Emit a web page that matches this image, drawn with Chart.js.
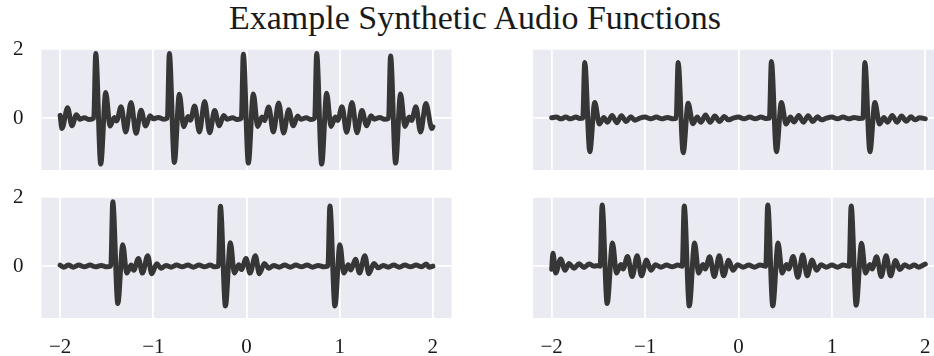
<!DOCTYPE html>
<html><head><meta charset="utf-8">
<script src="https://cdn.jsdelivr.net/npm/chart.js@4.4.0/dist/chart.umd.min.js"></script>
<style>
html,body{margin:0;padding:0;width:934px;height:356px;overflow:hidden;background:#fff;}
#wrap{position:relative;width:934px;height:356px;overflow:hidden;}
canvas{position:absolute;}
#title{position:absolute;left:0;top:1px;width:950px;text-align:center;font-family:"Liberation Serif",serif;font-size:34px;line-height:34px;color:#1a1a1a;white-space:nowrap;}
</style></head><body>
<div id="wrap">
<div id="title"></div>
<canvas id="c0" width="470" height="141" style="left:0;top:34px"></canvas>
<canvas id="c1" width="421" height="141" style="left:528px;top:34px"></canvas>
<canvas id="c2" width="470" height="174" style="left:0;top:182px"></canvas>
<canvas id="c3" width="421" height="174" style="left:528px;top:182px"></canvas>
</div>
<script>
const titleText = 'Example Synthetic Audio Functions';
const xTicks = [-2, -1, 0, 1, 2];
const yTicks = [0, 2];
const xRange = [-2.2, 2.2];
const yRange = [-1.5, 2.0];

// [x, y] samples, one array per panel
const topLeft = [
 [-2.000,0.08],[-1.980,-0.30],[-1.920,0.30],[-1.873,-0.22],[-1.825,0.10],[-1.790,-0.03],[-1.740,0.01],[-1.690,-0.04],[-1.639,0.00],
 [-1.618,1.87],[-1.564,-1.33],[-1.511,0.74],[-1.464,-0.23],[-1.418,0.02],[-1.393,-0.08],[-1.346,0.33],[-1.296,-0.40],[-1.239,0.45],[-1.185,-0.44],[-1.132,0.23],[-1.082,-0.23],[-1.035,0.07],[-1.000,-0.02],[-0.946,0.02],[-0.892,-0.03],[-0.849,0.00],
 [-0.828,1.87],[-0.774,-1.28],[-0.721,0.69],[-0.674,-0.25],[-0.628,0.05],[-0.603,-0.06],[-0.556,0.35],[-0.506,-0.40],[-0.449,0.48],[-0.395,-0.42],[-0.342,0.22],[-0.292,-0.22],[-0.245,0.08],[-0.210,-0.03],[-0.150,0.01],[-0.100,-0.04],[-0.055,0.00],
 [-0.034,1.85],[0.020,-1.30],[0.073,0.70],[0.120,-0.24],[0.166,0.03],[0.191,-0.07],[0.238,0.32],[0.288,-0.40],[0.345,0.44],[0.399,-0.43],[0.452,0.24],[0.502,-0.22],[0.549,0.06],[0.584,-0.03],[0.640,0.01],[0.690,-0.04],[0.732,0.00],
 [0.753,1.87],[0.807,-1.33],[0.860,0.72],[0.907,-0.24],[0.953,0.03],[0.978,-0.07],[1.025,0.33],[1.075,-0.41],[1.132,0.45],[1.186,-0.42],[1.239,0.22],[1.289,-0.22],[1.336,0.07],[1.371,-0.03],[1.430,0.02],[1.480,-0.03],[1.525,0.00],
 [1.546,1.80],[1.600,-1.30],[1.653,0.70],[1.700,-0.24],[1.746,0.03],[1.771,-0.07],[1.818,0.33],[1.868,-0.40],[1.925,0.42],[1.990,-0.30],[2.000,-0.25]
];
const topRight = [
 [-2.000,0.01],[-1.950,0.03],[-1.900,-0.02],[-1.850,0.03],[-1.800,-0.02],[-1.740,0.03],[-1.700,-0.01],[-1.667,0.00],
 [-1.646,1.61],[-1.592,-0.97],[-1.539,0.45],[-1.489,-0.17],[-1.442,0.02],[-1.403,-0.12],[-1.353,0.08],[-1.303,-0.13],[-1.253,0.07],[-1.203,-0.10],[-1.153,0.04],[-1.110,-0.06],[-1.056,0.00],[-1.000,0.03],[-0.940,-0.02],[-0.880,0.03],[-0.820,-0.02],[-0.760,0.02],[-0.700,-0.02],[-0.667,0.00],
 [-0.646,1.61],[-0.592,-1.00],[-0.539,0.43],[-0.489,-0.16],[-0.442,0.03],[-0.403,-0.12],[-0.353,0.09],[-0.303,-0.12],[-0.253,0.06],[-0.203,-0.10],[-0.153,0.05],[-0.110,-0.05],[-0.056,0.00],[0.000,0.03],[0.060,-0.02],[0.120,0.03],[0.180,-0.02],[0.240,0.03],[0.300,-0.01],[0.331,0.00],
 [0.352,1.64],[0.406,-0.97],[0.459,0.45],[0.509,-0.17],[0.556,0.03],[0.595,-0.11],[0.645,0.08],[0.695,-0.12],[0.745,0.07],[0.795,-0.10],[0.845,0.04],[0.888,-0.05],[0.942,0.00],[1.000,0.03],[1.060,-0.02],[1.120,0.03],[1.180,-0.02],[1.240,0.02],[1.300,-0.01],[1.332,0.00],
 [1.353,1.61],[1.407,-0.97],[1.460,0.45],[1.510,-0.17],[1.557,0.02],[1.596,-0.12],[1.646,0.08],[1.696,-0.12],[1.746,0.06],[1.796,-0.09],[1.846,0.04],[1.890,-0.05],[1.940,0.01],[2.000,-0.02]
];
const bottomLeft = [
 [-2.000,0.03],[-1.960,-0.03],[-1.910,0.03],[-1.860,-0.03],[-1.800,0.03],[-1.740,-0.02],[-1.680,0.03],[-1.620,-0.02],[-1.560,0.02],[-1.500,-0.02],[-1.456,0.00],
 [-1.435,1.86],[-1.381,-1.08],[-1.328,0.62],[-1.285,-0.20],[-1.238,0.03],[-1.210,-0.12],[-1.160,0.22],[-1.117,-0.20],[-1.060,0.30],[-1.017,-0.22],[-0.963,0.07],[-0.917,-0.06],[-0.863,0.02],[-0.810,-0.03],[-0.750,0.03],[-0.690,-0.02],[-0.630,0.03],[-0.570,-0.03],[-0.510,0.03],[-0.450,-0.02],[-0.390,0.03],[-0.340,-0.02],[-0.301,0.00],
 [-0.280,1.73],[-0.226,-1.15],[-0.173,0.68],[-0.130,-0.20],[-0.083,0.04],[-0.055,-0.10],[-0.005,0.22],[0.038,-0.20],[0.095,0.30],[0.138,-0.22],[0.192,0.08],[0.238,-0.06],[0.292,0.02],[0.350,-0.03],[0.410,0.03],[0.470,-0.03],[0.530,0.03],[0.590,-0.02],[0.650,0.03],[0.710,-0.03],[0.770,0.02],[0.830,-0.02],[0.874,0.00],
 [0.895,1.74],[0.949,-1.15],[1.002,0.62],[1.045,-0.20],[1.092,0.04],[1.120,-0.11],[1.170,0.20],[1.213,-0.20],[1.270,0.30],[1.313,-0.22],[1.367,0.08],[1.413,-0.05],[1.467,0.02],[1.520,-0.03],[1.580,0.03],[1.640,-0.03],[1.700,0.03],[1.760,-0.02],[1.820,0.03],[1.880,-0.02],[1.930,0.06],[1.960,-0.03],[2.000,0.00]
];
const bottomRight = [
 [-2.000,-0.09],[-1.986,0.37],[-1.957,-0.20],[-1.904,0.21],[-1.857,-0.12],[-1.814,0.08],[-1.761,-0.06],[-1.707,0.07],[-1.654,-0.04],[-1.600,0.06],[-1.546,0.00],[-1.500,0.02],[-1.481,0.00],
 [-1.460,1.77],[-1.406,-1.08],[-1.349,0.67],[-1.306,-0.20],[-1.260,0.05],[-1.235,-0.08],[-1.188,0.28],[-1.138,-0.30],[-1.085,0.30],[-1.038,-0.28],[-0.985,0.18],[-0.938,-0.12],[-0.888,0.04],[-0.830,-0.03],[-0.770,0.03],[-0.710,-0.02],[-0.650,0.03],[-0.602,0.00],
 [-0.581,1.74],[-0.527,-1.15],[-0.470,0.67],[-0.427,-0.20],[-0.381,0.05],[-0.356,-0.08],[-0.309,0.27],[-0.259,-0.30],[-0.206,0.30],[-0.159,-0.28],[-0.106,0.17],[-0.059,-0.12],[-0.009,0.04],[0.050,-0.03],[0.110,0.03],[0.170,-0.03],[0.230,0.03],[0.292,0.00],
 [0.313,1.77],[0.367,-1.15],[0.424,0.67],[0.467,-0.20],[0.513,0.05],[0.538,-0.08],[0.585,0.28],[0.635,-0.32],[0.688,0.32],[0.735,-0.28],[0.788,0.18],[0.835,-0.12],[0.885,0.04],[0.940,-0.03],[1.000,0.03],[1.060,-0.03],[1.120,0.03],[1.185,0.00],
 [1.206,1.74],[1.260,-1.13],[1.317,0.66],[1.360,-0.20],[1.406,0.05],[1.431,-0.08],[1.478,0.27],[1.528,-0.30],[1.581,0.30],[1.628,-0.28],[1.681,0.16],[1.728,-0.10],[1.778,0.04],[1.830,-0.03],[1.880,0.03],[1.930,-0.03],[1.970,0.02],[2.000,0.06]
];

document.getElementById('title').textContent = titleText;

const bgPlugin = {
  id: 'panelBg',
  beforeDraw(chart) {
    const a = chart.chartArea, ctx = chart.ctx;
    ctx.save();
    ctx.fillStyle = '#EAEAF2';
    ctx.fillRect(a.left, a.top, a.right - a.left, a.bottom - a.top);
    ctx.restore();
  }
};

const fmt = v => (v < 0 ? '\u2212' + Math.abs(v) : String(v));
const tickFont = { family: 'Liberation Serif', size: 21 };
const noPad = s => { s.paddingTop = 0; s.paddingBottom = 0; s.paddingLeft = 0; s.paddingRight = 0; };

function makePanel(id, pts, showX, showY, isLeft) {
  new Chart(document.getElementById(id), {
    type: 'line',
    data: { datasets: [{
      data: pts.map(p => ({ x: p[0], y: p[1] })),
      borderColor: '#363636',
      borderWidth: 5,
      pointRadius: 0,
      cubicInterpolationMode: 'monotone',
      borderJoinStyle: 'round',
      borderCapStyle: 'round',
      fill: false
    }]},
    options: {
      responsive: false,
      devicePixelRatio: 1,
      animation: false,
      events: [],
      layout: { padding: { left: isLeft ? 0 : 5, top: 15, right: isLeft ? 18.5 : 5, bottom: showX ? 0 : 5 } },
      plugins: { legend: { display: false }, tooltip: { enabled: false }, title: { display: false } },
      scales: {
        x: {
          type: 'linear', min: xRange[0], max: xRange[1],
          afterBuildTicks: s => { s.ticks = xTicks.map(v => ({ value: v })); },
          afterFit: s => { s.height = showX ? 38 : 0; noPad(s); },
          grid: { color: '#ffffff', lineWidth: 1.8, drawTicks: false },
          border: { display: false },
          ticks: { display: showX, padding: 17, font: tickFont, color: '#1a1a1a', callback: fmt, maxRotation: 0, autoSkip: false }
        },
        y: {
          type: 'linear', min: yRange[0], max: yRange[1],
          afterBuildTicks: s => { s.ticks = yTicks.map(v => ({ value: v })); },
          afterFit: s => { s.width = showY ? 41.5 : 0; noPad(s); },
          grid: { color: '#ffffff', lineWidth: 1.8, drawTicks: false },
          border: { display: false },
          ticks: { display: showY, padding: 18, font: tickFont, color: '#1a1a1a', callback: fmt }
        }
      }
    },
    plugins: [bgPlugin]
  });
}

makePanel('c0', topLeft, false, true, true);
makePanel('c1', topRight, false, false, false);
makePanel('c2', bottomLeft, true, true, true);
makePanel('c3', bottomRight, true, false, false);
</script>
</body></html>
